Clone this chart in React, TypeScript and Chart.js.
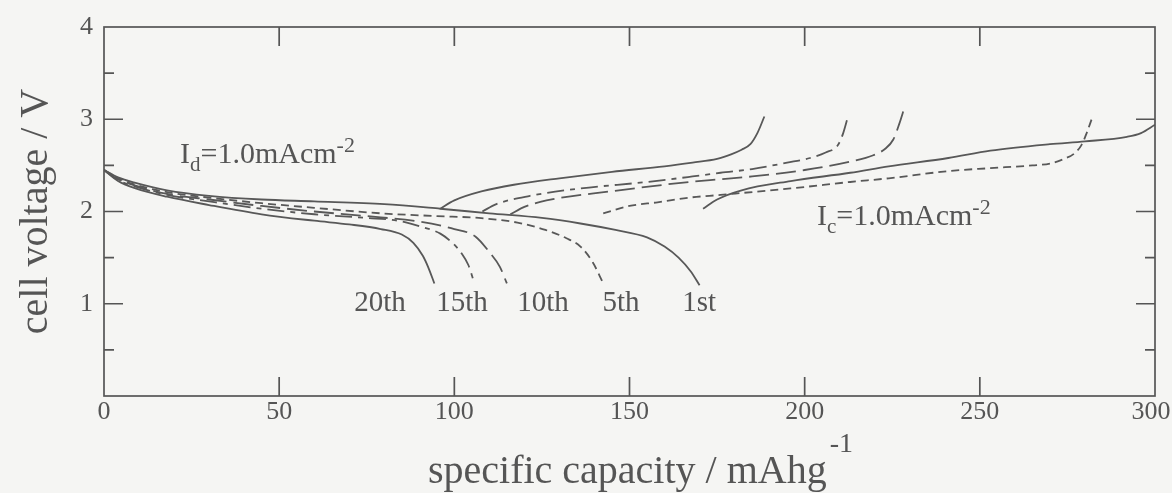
import React, { useEffect, useRef } from "react";
import { Chart, registerables } from "chart.js";

Chart.register(...registerables);

const SERIF = '"Liberation Serif", "Times New Roman", Times, serif';
const INK = "#555555";
const LINE = "#585858";
const BG = "#f5f5f3";

// ---- discharge curves (capacity mAh/g, voltage V) ----
const dis1Cap = [0, 4, 9, 18, 30, 45, 60, 80, 96, 110, 125, 136, 146, 155, 160, 164, 167.5, 170];
const dis1V = [2.45, 2.37, 2.31, 2.23, 2.17, 2.13, 2.11, 2.08, 2.03, 1.98, 1.93, 1.87, 1.8, 1.72, 1.62, 1.5, 1.35, 1.2];

const dis5Cap = [0, 4, 9, 18, 30, 45, 60, 79, 95, 107, 118, 126, 132, 136, 139.5, 142.5];
const dis5V = [2.45, 2.36, 2.29, 2.21, 2.15, 2.09, 2.04, 1.98, 1.95, 1.93, 1.88, 1.8, 1.71, 1.62, 1.45, 1.22];

const dis10Cap = [0, 4, 9, 18, 30, 45, 60, 75, 90, 100, 106, 110, 113, 115];
const dis10V = [2.45, 2.35, 2.28, 2.19, 2.13, 2.06, 2.0, 1.95, 1.89, 1.81, 1.73, 1.56, 1.4, 1.22];

const dis15Cap = [0, 4, 9, 18, 30, 45, 60, 75, 84, 90, 96, 100, 102, 104, 105.5];
const dis15V = [2.45, 2.34, 2.27, 2.18, 2.11, 2.03, 1.97, 1.93, 1.9, 1.84, 1.76, 1.64, 1.55, 1.42, 1.25];

const dis20Cap = [0, 4, 9, 18, 30, 45, 60, 70, 79, 85, 88.3, 91, 92.5, 94.3];
const dis20V = [2.45, 2.33, 2.25, 2.16, 2.07, 1.97, 1.9, 1.86, 1.81, 1.75, 1.66, 1.52, 1.4, 1.22];

// ---- charge curves ----
const chg1Cap = [171, 175, 182, 196, 213, 224, 241, 253, 270, 280, 292, 296, 300];
const chg1V = [2.03, 2.13, 2.23, 2.33, 2.42, 2.49, 2.58, 2.66, 2.73, 2.76, 2.81, 2.85, 2.94];

const chg5Cap = [142.5, 150, 158, 167, 176, 196, 213, 224, 241.5, 253, 265, 270, 274, 277, 279, 280.5, 282];
const chg5V = [1.98, 2.06, 2.1, 2.15, 2.18, 2.25, 2.32, 2.36, 2.44, 2.47, 2.5, 2.52, 2.57, 2.63, 2.72, 2.85, 3.01];

const chg10Cap = [116, 120, 126.3, 145, 167, 176, 185, 200, 213, 219.6, 223, 225.3, 227, 228.5];
const chg10V = [1.97, 2.05, 2.12, 2.22, 2.32, 2.35, 2.38, 2.45, 2.54, 2.61, 2.68, 2.78, 2.95, 3.13];

const chg15Cap = [108, 112, 121.6, 136, 155, 168, 176, 185, 195, 201.5, 206, 209.5, 211, 212.5];
const chg15V = [2.0, 2.08, 2.17, 2.25, 2.32, 2.38, 2.42, 2.46, 2.53, 2.58, 2.64, 2.72, 2.85, 3.05];

const chg20Cap = [96, 100, 108, 117, 130, 145, 160, 168, 175, 179, 182, 184.5, 186.5, 188.5];
const chg20V = [2.03, 2.12, 2.22, 2.29, 2.36, 2.43, 2.49, 2.53, 2.57, 2.62, 2.67, 2.73, 2.85, 3.03];

// ---- axis / label text ----
const cycleLabels = ["20th", "15th", "10th", "5th", "1st"];
const xTitle = "specific capacity / mAhg";
const xTitleSup = "-1";
const yTitle = "cell voltage / V";

// annotation placement (data coordinates)
const cycleLabelCap = [78.8, 102.2, 125.3, 147.6, 169.9];
const cycleLabelV = 0.92;
const currentLabels = [
  { sub: "d", cap: 21.7, v: 2.53 },
  { sub: "c", cap: 203.5, v: 1.85 },
];

const pts = (xs: number[], ys: number[]) => xs.map((x, i) => ({ x, y: ys[i] }));

const SOLID: number[] = [];
const SHORT = [8, 5];
const LONG = [20, 7];
const DASHDOT = [17, 6, 5, 6];

function drawRich(ctx: CanvasRenderingContext2D, x: number, y: number, parts: { t: string; size: number; dy?: number }[]) {
  let cx = x;
  for (const p of parts) {
    ctx.font = `${p.size}px ${SERIF}`;
    ctx.fillText(p.t, cx, y + (p.dy || 0));
    cx += ctx.measureText(p.t).width;
  }
  return cx - x;
}

const framePlugin = {
  id: "frameAndText",
  beforeDraw(chart: any) {
    // nudge the last x tick label inward so it is not clipped by the canvas edge
    const xs = chart.scales.x;
    const items = xs.getLabelItems();
    const last = items[items.length - 1];
    if (last && !last._nudged) {
      last.options.translation[0] -= 4;
      last._nudged = true;
    }
  },
  afterDraw(chart: any) {
    const { ctx, chartArea: a, scales } = chart;
    const xs = scales.x;
    const ys = scales.y;
    ctx.save();
    ctx.strokeStyle = INK;
    ctx.lineWidth = 1.7;
    ctx.strokeRect(a.left, a.top, a.right - a.left, a.bottom - a.top);
    ctx.beginPath();
    for (const t of xs.ticks) {
      const px = xs.getPixelForValue(t.value);
      if (t.value <= xs.min || t.value >= xs.max) continue;
      ctx.moveTo(px, a.bottom);
      ctx.lineTo(px, a.bottom - 19);
      ctx.moveTo(px, a.top);
      ctx.lineTo(px, a.top + 19);
    }
    for (const t of ys.ticks) {
      if (t.value <= ys.min || t.value >= ys.max) continue;
      const py = ys.getPixelForValue(t.value);
      const len = Number.isInteger(t.value) ? 19 : 10;
      ctx.moveTo(a.left, py);
      ctx.lineTo(a.left + len, py);
      ctx.moveTo(a.right, py);
      ctx.lineTo(a.right - len, py);
    }
    ctx.stroke();

    ctx.fillStyle = INK;
    ctx.textBaseline = "alphabetic";

    // cycle labels
    ctx.textAlign = "center";
    ctx.font = `29px ${SERIF}`;
    cycleLabels.forEach((lbl, i) => {
      ctx.fillText(lbl, xs.getPixelForValue(cycleLabelCap[i]), ys.getPixelForValue(cycleLabelV));
    });

    // current density labels
    ctx.textAlign = "left";
    for (const c of currentLabels) {
      drawRich(ctx, xs.getPixelForValue(c.cap), ys.getPixelForValue(c.v), [
        { t: "I", size: 30 },
        { t: c.sub, size: 21, dy: 8 },
        { t: "=1.0mAcm", size: 30 },
        { t: "-2", size: 22, dy: -11 },
      ]);
    }

    // x-axis title with superscript
    ctx.font = `40px ${SERIF}`;
    const w1 = ctx.measureText(xTitle).width;
    ctx.font = `28px ${SERIF}`;
    const w2 = ctx.measureText(xTitleSup).width;
    const total = w1 + 3 + w2;
    const cx = (a.left + a.right) / 2 + 11;
    const startX = cx - total / 2;
    const baseY = 483;
    ctx.font = `40px ${SERIF}`;
    ctx.fillText(xTitle, startX, baseY);
    ctx.font = `28px ${SERIF}`;
    ctx.fillText(xTitleSup, startX + w1 + 3, baseY - 31);
    ctx.restore();
  },
};

export default function App() {
  const ref = useRef<HTMLCanvasElement | null>(null);

  useEffect(() => {
    if (!ref.current) return;
    const mk = (label: string, xs: number[], ys: number[], dash: number[]) => ({
      label,
      data: pts(xs, ys),
      showLine: true,
      pointRadius: 0,
      borderColor: LINE,
      borderWidth: 1.8,
      borderDash: dash,
      fill: false,
      cubicInterpolationMode: "monotone" as const,
    });
    const chart = new Chart(ref.current, {
      type: "scatter",
      data: {
        datasets: [
          mk("1st discharge", dis1Cap, dis1V, SOLID),
          mk("5th discharge", dis5Cap, dis5V, SHORT),
          mk("10th discharge", dis10Cap, dis10V, LONG),
          mk("15th discharge", dis15Cap, dis15V, DASHDOT),
          mk("20th discharge", dis20Cap, dis20V, SOLID),
          mk("1st charge", chg1Cap, chg1V, SOLID),
          mk("5th charge", chg5Cap, chg5V, SHORT),
          mk("10th charge", chg10Cap, chg10V, LONG),
          mk("15th charge", chg15Cap, chg15V, DASHDOT),
          mk("20th charge", chg20Cap, chg20V, SOLID),
        ],
      },
      options: {
        animation: false,
        responsive: false,
        devicePixelRatio: 1,
        events: [],
        layout: { padding: { left: 0, right: 17, top: 27, bottom: 0 } },
        plugins: { legend: { display: false }, tooltip: { enabled: false } },
        scales: {
          x: {
            type: "linear",
            min: 0,
            max: 300,
            ticks: { stepSize: 50, color: INK, font: { family: SERIF, size: 26 }, padding: 1, maxRotation: 0 },
            grid: { display: false, drawTicks: false },
            border: { display: false },
            afterFit: (s: any) => {
              s.height = 97;
              s.paddingLeft = 0;
              s.paddingRight = 0;
            },
          },
          y: {
            type: "linear",
            min: 0,
            max: 4,
            ticks: {
              stepSize: 0.5,
              color: INK,
              font: { family: SERIF, size: 26 },
              padding: 11,
              callback: (v: any) => (Number.isInteger(v) && v > 0 ? String(v) : ""),
            },
            grid: { display: false, drawTicks: false },
            border: { display: false },
            title: {
              display: true,
              text: yTitle,
              color: INK,
              font: { family: SERIF, size: 40, lineHeight: 1.2 },
              padding: { top: 12.5, bottom: 0 },
            },
            afterFit: (s: any) => {
              s.width = 104;
              s.paddingTop = 0;
              s.paddingBottom = 0;
            },
          },
        },
      },
      plugins: [framePlugin],
    });
    return () => chart.destroy();
  }, []);

  return (
    <div style={{ position: "fixed", left: 0, top: 0, width: 1172, height: 493, background: BG }}>
      <canvas ref={ref} width={1172} height={493} style={{ display: "block" }} />
    </div>
  );
}
